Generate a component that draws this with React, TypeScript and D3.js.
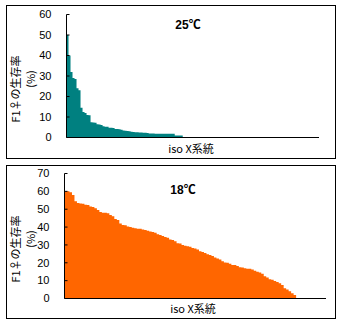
import React from "react";
import * as d3 from "d3";

// 25℃ panel: survival rate (%) per iso X line, sorted descending
const values25: number[] = [
  50, 40, 32, 29, 28.5, 24, 23, 14.5, 12.5, 12, 11, 10.8, 7.5, 7.3, 7.2, 6.5,
  6.3, 6.1, 5.5, 5.3, 5.2, 4.8, 4.7, 4.6, 4.2, 4.1, 4.0, 3.8, 3.4, 3.3, 3.2, 3.1,
  2.8, 2.7, 2.6, 2.6, 2.4, 2.4, 2.3, 2.3, 2.2, 2.0, 2.0, 1.9, 1.8, 1.8, 1.8, 1.8,
  1.8, 1.8, 1.8, 1.8, 1.8, 1.8, 1.0, 1.0, 1.0, 1.0,
];
const count25 = 126;
const ticks25 = [0, 10, 20, 30, 40, 50, 60];

// 18℃ panel
const values18: number[] = [
  60, 60, 59.5, 58, 54.5, 53.5, 53.2, 53, 52.5, 52.3, 51.5, 51.3, 50.5, 49.5,
  48.5, 48, 48, 47.8, 46.7, 46, 44.5, 44, 42, 41.2, 41, 40.3, 40, 39.6, 39.3,
  39.1, 39, 38.6, 38.3, 38, 37.5, 37.2, 36.8, 36, 35.6, 35, 34.5, 34, 33, 32.7,
  32, 31, 30.8, 30, 29.5, 29.3, 29, 28.3, 28, 27.5, 26.5, 26, 25.5, 24.8, 24.3,
  23.8, 23, 22.4, 21.8, 20.8, 20.2, 20, 19.5, 18.8, 18.7, 18.2, 17.5, 17.4, 17,
  16.7, 16.6, 16.3, 15.5, 15, 14.5, 13.8, 12.5, 11.8, 10.8, 10.5, 9.8, 9.3, 8.5,
  7.5, 5.8, 5, 4, 3, 2,
];
const count18 = 105;
const ticks18 = [0, 10, 20, 30, 40, 50, 60, 70];

const titles = ["25℃", "18℃"];
const xLabel = "iso X系統";
const yLabel1 = "F1♀の生存率";
const yLabel2 = "(%)";

const FONT = "'Liberation Sans', 'Noto Sans CJK JP', sans-serif";
const JFONT = "'Noto Sans CJK JP', 'Liberation Sans', sans-serif";

type PanelProps = {
  top: number;
  values: number[];
  count: number;
  ticks: number[];
  title: string;
  color: string;
  axisX: number;
  axisRight: number;
  yTop: number;
  yBottom: number;
  titleX: number;
  titleY: number;
  xLabelX: number;
  xLabelY: number;
};

function Panel(p: PanelProps) {
  const max = p.ticks[p.ticks.length - 1];
  const x = d3.scaleLinear().domain([0, p.count]).range([p.axisX, p.axisRight]);
  const y = d3.scaleLinear().domain([0, max]).range([p.yBottom, p.yTop]);
  const pts = p.values.map((v, i) => ({ i, v }));
  pts.push({ i: p.values.length, v: 0 });
  const area = d3
    .area<{ i: number; v: number }>()
    .x((d) => x(d.i))
    .y0(y(0))
    .y1((d) => y(d.v))
    .curve(d3.curveStepAfter);
  const labelCenterY = p.top + 79;
  return (
    <g>
      <rect x={6.5} y={p.top + 0.5} width={329} height={153} fill="#fff" stroke="#000" strokeWidth={1} />
      <path d={area(pts) || ""} fill={p.color} />
      <line x1={p.axisX} x2={p.axisX} y1={p.yTop} y2={p.yBottom} stroke="#000" strokeWidth={1} />
      <line x1={p.axisX} x2={p.axisRight} y1={p.yBottom} y2={p.yBottom} stroke="#000" strokeWidth={1} />
      {p.ticks.map((t) => (
        <g key={t}>
          <line x1={p.axisX} x2={p.axisX + 3} y1={y(t)} y2={y(t)} stroke="#000" strokeWidth={1} />
          <text x={p.axisX - 15} y={y(t)} dy="0.35em" textAnchor="end" fontSize={11} fontFamily={FONT} fill="#000">
            {t}
          </text>
        </g>
      ))}
      <text x={p.titleX} y={p.titleY} textAnchor="middle" fontSize={12} fontWeight="bold" fontFamily={FONT} fill="#000">
        {p.title}
      </text>
      <text x={p.xLabelX} y={p.xLabelY} textAnchor="middle" fontSize={11} fontFamily={JFONT} fill="#000">
        {xLabel}
      </text>
      <text
        transform={`translate(20,${labelCenterY + 5}) rotate(-90)`}
        textAnchor="middle"
        fontSize={11}
        fontFamily={JFONT}
        fill="#000"
      >
        {yLabel1}
      </text>
      <text
        transform={`translate(35,${labelCenterY - 5}) rotate(-90)`}
        textAnchor="middle"
        fontSize={11}
        fontFamily={JFONT}
        fill="#000"
      >
        {yLabel2}
      </text>
    </g>
  );
}

export default function App() {
  return (
    <svg width={341} height={324} style={{ position: "absolute", left: 0, top: 0, background: "#fff" }}>
      <rect x={0} y={0} width={341} height={324} fill="#fff" />
      <Panel
        top={5}
        values={values25}
        count={count25}
        ticks={ticks25}
        title={titles[0]}
        color="#008080"
        axisX={66.5}
        axisRight={319}
        yTop={14.5}
        yBottom={137.5}
        titleX={188}
        titleY={29}
        xLabelX={191}
        xLabelY={153}
      />
      <Panel
        top={165}
        values={values18}
        count={count18}
        ticks={ticks18}
        title={titles[1]}
        color="#FF6600"
        axisX={64.5}
        axisRight={326}
        yTop={173.5}
        yBottom={298.5}
        titleX={183}
        titleY={194}
        xLabelX={193}
        xLabelY={313}
      />
    </svg>
  );
}
